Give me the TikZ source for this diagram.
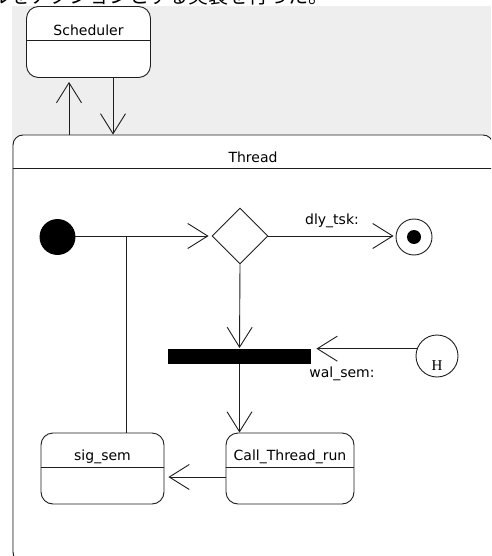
\documentclass[tikz,border=0pt]{standalone}
\usepackage{fontspec}
\setmainfont{DejaVu Sans}
\newfontfamily\cjkfont{Noto Sans CJK JP}
\newfontfamily\serifH{Liberation Serif}
\usetikzlibrary{shapes.geometric,arrows.meta,calc}
\definecolor{bggray}{RGB}{238,238,238}
\definecolor{ink}{RGB}{30,30,30}
\begin{document}
\begin{tikzpicture}[x=1pt,y=-1pt,
  line width=0.9pt, draw=ink,
  arr/.style={-{Straight Barb[length=20pt,width=25pt]}},
  statebox/.style={draw=ink, fill=white, rounded corners=12pt, minimum width=#1, minimum height=71pt, inner sep=0pt},
  lbl/.style={font=\fontsize{14}{16}\selectfont, inner sep=0pt, text=black},
  divider/.style={draw=ink, line width=0.9pt}
]
\useasboundingbox (0,0) rectangle (491,556);
\clip (0,0) rectangle (491,556);

% background
\fill[bggray] (12,6) rectangle (491,556);
\node[anchor=base west, inner sep=0pt, font=\cjkfont\fontsize{20}{22}\selectfont] (jp) at (-10,3.5) {ルをアクションとする実装を行った。};

% Scheduler
\node[statebox=124pt] (sched) at (88.5,42) {};
\node[lbl] (schedl) at (88.5,30) {Scheduler};
\draw[divider] (sched.west |- 0,40) -- (sched.east |- 0,40);

% Thread composite state
\node[draw=ink, fill=white, rounded corners=10pt, minimum width=480pt, minimum height=427pt, inner sep=0pt] (thread) at (253,348.5) {};
\node[lbl] (threadl) at (253,157.5) {Thread};
\draw[divider] (thread.west |- 0,168) -- (thread.east |- 0,168);

% Scheduler <-> Thread
\draw[arr, shorten >=4pt] ([xshift=-19.5pt]sched.south |- thread.north) -- ([xshift=-19.5pt]sched.south);
\draw[arr] ([xshift=24.5pt]sched.south) -- ([xshift=24.5pt]sched.south |- thread.north);

% initial state
\node[circle, fill=black, draw=black, minimum size=35pt, inner sep=0pt] (init) at (57.5,237) {};

% decision
\node[diamond, draw=ink, fill=white, minimum width=56pt, minimum height=56pt, inner sep=0pt] (dec) at (240,236) {};

% final state
\node[circle, draw=ink, fill=white, minimum size=36pt, inner sep=0pt] (final) at (414,237) {};
\node[circle, fill=black, minimum size=14pt, inner sep=0pt] (finalin) at (final.center) {};

% sync bar
\node[rectangle, fill=black, minimum width=143pt, minimum height=15pt, inner sep=0pt] (bar) at (239.5,356) {};

% history state
\node[circle, draw=ink, fill=white, minimum size=42pt, inner sep=0pt] (hist) at (437,356) {};
\node[inner sep=0pt, font=\serifH\fontsize{15}{17}\selectfont] (histl) at (437,366) {H};

% states
\node[statebox=123pt] (sig) at (102.5,468.5) {};
\node[lbl] (sigl) at (102.5,457) {sig\_sem};
\draw[divider] (sig.west |- 0,467) -- (sig.east |- 0,467);

\node[statebox=128pt] (call) at (290,468.5) {};
\node[lbl] (calll) at (290,457) {Call\_Thread\_run};
\draw[divider] (call.west |- 0,467) -- (call.east |- 0,467);

% transitions
\coordinate (br) at (126,236);
\draw[arr, shorten >=3pt] (init.east |- dec.west) -- (dec.west);
\draw (br) -- (br |- sig.north);

\draw[arr, shorten >=2pt] (dec.east) -- (final.west |- dec.east)
  node[lbl, pos=0.5, above=8pt] (dly) {dly\_tsk:};

\draw[arr] (dec.south) -- (bar.north);

\draw[arr, shorten >=5pt] (hist.160) -- (bar.east |- hist.160);
\node[lbl] (wal) at (342,374) {wal\_sem:};

\draw[arr] (bar.south) -- (bar.south |- call.north);

\draw[arr, shorten >=4pt] ([yshift=-8.5pt]call.west) -- ([yshift=-8.5pt]sig.east);
\end{tikzpicture}
\end{document}
